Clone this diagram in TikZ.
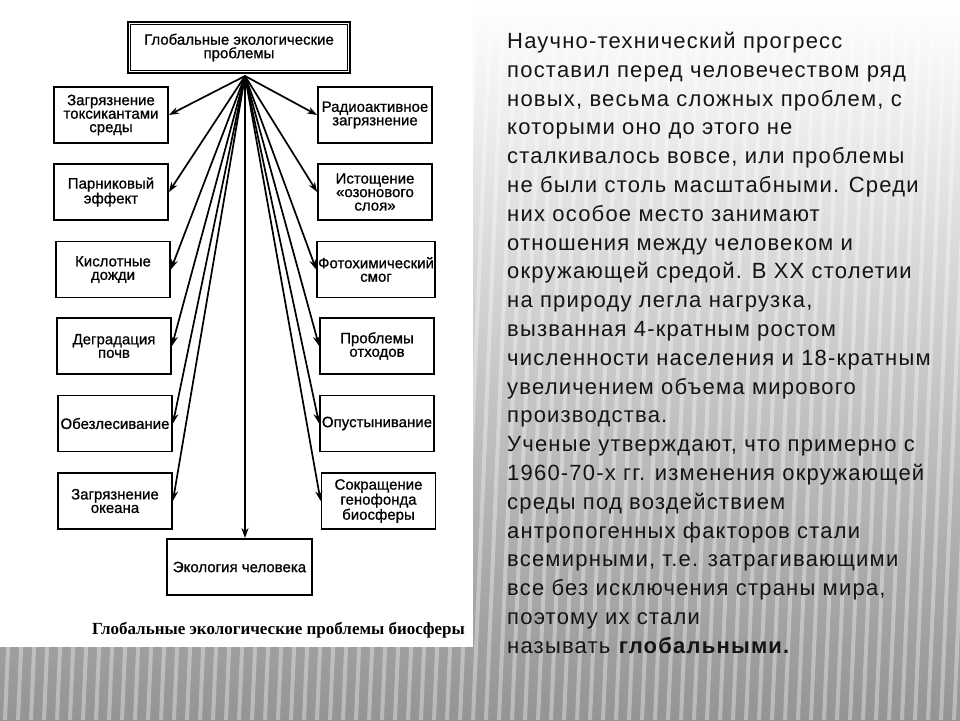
\documentclass[tikz,border=0pt]{standalone}
\usepackage{fontspec}
\setmainfont{Liberation Sans}
\newfontfamily\capfont{Liberation Serif}
\newfontfamily\widefont[LetterSpace=5.5]{Liberation Sans}
\newfontfamily\boxfont[FakeBold=0.8]{Liberation Sans}
\usetikzlibrary{positioning,arrows.meta}
\definecolor{StripeGray}{RGB}{148,148,148}
\definecolor{MidGray}{RGB}{185,185,185}
\tikzset{prob/.style={draw,line width=1.8pt,minimum width=114pt,minimum height=56pt,
    inner sep=1pt,align=center,font=\boxfont\fontsize{15}{13.5}\selectfont},
  link/.style={-{Stealth[length=10pt,width=7pt]},line width=1.7pt}}

\begin{document}
\begin{tikzpicture}[x=1pt,y=-1pt]
	\useasboundingbox (0,0) rectangle (960,720);
	% background
	\shade[top color=white,middle color=MidGray,bottom color=StripeGray] (0,0) rectangle (960,720);
	\foreach \x in {-60,-47,...,1000}
	\draw[white,opacity=0.35,line width=4pt] (\x+30,20) -- (\x,720);
	\fill[white] (0,0) rectangle (473,647);
	% scheme
	\node[prob,line width=2.6pt,minimum width=222pt,minimum height=51pt] (glob) at (239,47.5) {Глобальные экологические\\проблемы};
	\draw[line width=1pt] ([shift={(3.8,3.8)}]glob.north west) rectangle ([shift={(-3.8,-3.8)}]glob.south east);
	\node[prob] (l1) at (111,115) {Загрязнение\\токсикантами\\среды};
	\node[prob] (l2) at (111,192) {Парниковый\\эффект};
	\node[prob] (l3) at (113,269.5) {Кислотные\\дожди};
	\node[prob] (l4) at (114,346) {Деградация\\почв};
	\node[prob] (l5) at (115,423.5) {Обезлесивание};
	\node[prob] (l6) at (115,501) {Загрязнение\\океана};
	\node[prob] (r1) at (375,115) {Радиоактивное\\загрязнение};
	\node[prob] (r2) at (375,192) {Истощение\\«озонового\\слоя»};
	\node[prob] (r3) at (376,269.5) {Фотохимический\\смог};
	\node[prob] (r4) at (377,346) {Проблемы\\отходов};
	\node[prob] (r5) at (377,423.5) {Опустынивание};
	\node[prob] (r6) at (378.5,501) {Сокращение\\генофонда\\биосферы};
	\node[prob,minimum width=145pt] (eco) at (239.5,567) {Экология человека};
	\coordinate (hub) at (245,76);
	\foreach \i in {1,...,6}{
		\draw[link] (hub) -- (l\i.east);
		\draw[link] (hub) -- (r\i.west);
	}
	\draw[link] (hub) -- (hub |- eco.north);
	\node[font=\capfont\bfseries\fontsize{17}{17}\selectfont] (cap) at (278.5,630) {Глобальные экологические проблемы биосферы};
	% text
	\node[anchor=north west,align=left,inner sep=0pt,text=black!92,font=\widefont\fontsize{22}{28.8}\selectfont] (txt) at (507,32) {Научно-технический прогресс\\
		поставил перед человечеством ряд\\
		новых, весьма сложных проблем, с\\
		которыми оно до этого не\\
		сталкивалось вовсе, или проблемы\\
		не были столь масштабными. Среди\\
		них особое место занимают\\
		отношения между человеком и\\
		окружающей средой. В XX столетии\\
		на природу легла нагрузка,\\
		вызванная 4-кратным ростом\\
		численности населения и 18-кратным\\
		увеличением объема мирового\\
		производства.\\
		Ученые утверждают, что примерно с\\
		1960-70-х гг. изменения окружающей\\
		среды под воздействием\\
		антропогенных факторов стали\\
		всемирными, т.е. затрагивающими\\
		все без исключения страны мира,\\
		поэтому их стали\\
		называть \textbf{глобальными.}};
\end{tikzpicture}
\end{document}
